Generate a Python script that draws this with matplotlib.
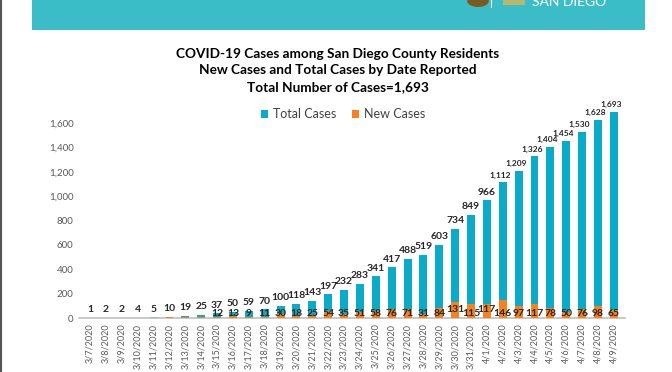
import numpy as np
import matplotlib.pyplot as plt
from matplotlib.patches import Rectangle
from matplotlib.lines import Line2D

# === DATA ===
DATES = ["3/7/2020", "3/8/2020", "3/9/2020", "3/10/2020", "3/11/2020", "3/12/2020",
         "3/13/2020", "3/14/2020", "3/15/2020", "3/16/2020", "3/17/2020", "3/18/2020",
         "3/19/2020", "3/20/2020", "3/21/2020", "3/22/2020", "3/23/2020", "3/24/2020",
         "3/25/2020", "3/26/2020", "3/27/2020", "3/28/2020", "3/29/2020", "3/30/2020",
         "3/31/2020", "4/1/2020", "4/2/2020", "4/3/2020", "4/4/2020", "4/5/2020",
         "4/6/2020", "4/7/2020", "4/8/2020", "4/9/2020"]
TOTAL_CASES = [1, 2, 2, 4, 5, 10, 19, 25, 37, 50, 59, 70, 100, 118, 143, 197, 232, 283,
               341, 417, 488, 519, 603, 734, 849, 966, 1112, 1209, 1326, 1404, 1454,
               1530, 1628, 1693]
NEW_CASES = [1, 1, 0, 2, 1, 5, 9, 6, 12, 13, 9, 11, 30, 18, 25, 54, 35, 51, 58, 76, 71,
             31, 84, 131, 115, 117, 146, 97, 117, 78, 50, 76, 98, 65]
# first dates have no label for new cases in the source
NEW_LABEL_FROM = "3/15/2020"
Y_TICKS = [0, 200, 400, 600, 800, 1000, 1200, 1400, 1600]

TITLE = ("COVID-19 Cases among San Diego County Residents\n"
         "New Cases and Total Cases by Date Reported\n"
         "Total Number of Cases=1,693")

TEAL = "#0aabc8"
ORANGE = "#f5821f"
BANNER = "#3bbdc7"
TXT = "#262626"
GREY = "#595959"
FONT = "Lato"

W, H = 672, 372
fig = plt.figure(figsize=(W / 100, H / 100), dpi=100)

# header banner and left border from the page
fig.add_artist(Rectangle((32 / W, 1 - 30 / H), (645 - 32) / W, 30 / H,
                         transform=fig.transFigure, color=BANNER, lw=0))
fig.add_artist(Line2D([0.5 / W, 0.5 / W], [0, 1], transform=fig.transFigure,
                      color="#555555", lw=1.5))
fig.text(532 / W, 1 - 2 / H, "SAN DIEGO", color="white", fontsize=10,
         family=FONT, va="center", ha="left")
fig.add_artist(Rectangle((503 / W, 1 - 5 / H), 22 / W, 6 / H,
                         transform=fig.transFigure, color="#b8b86a", lw=0))
fig.add_artist(Line2D([491 / W, 491 / W], [1 - 7 / H, 1], transform=fig.transFigure,
                      color="white", lw=0.8))
fig.add_artist(plt.Circle((478 / W, 1 - 1 / H), 6 / H, transform=fig.transFigure,
                          color="#7a5a1e", lw=0))

ax = fig.add_axes([79 / W, 54 / H, (625 - 79) / W, (318 - 98.6) / H])
x = np.arange(len(DATES))
bw = 0.5
ax.bar(x, TOTAL_CASES, width=bw, color=TEAL, label="Total Cases", zorder=2)
ax.bar(x, NEW_CASES, width=bw, color=ORANGE, label="New Cases", zorder=3)

for i, v in enumerate(TOTAL_CASES):
    big = v >= 1000
    ax.annotate(f"{v:,}", (x[i], v), xytext=(-2 if big else 0, 2.5),
                textcoords="offset points", ha="center", va="bottom",
                fontsize=6 if big else 7.5, fontweight="bold",
                color=TXT, family=FONT, zorder=4)

start = DATES.index(NEW_LABEL_FROM)
for i in range(start, len(DATES)):
    # staggered labels where they would collide
    dy = 9 if DATES[i] in ("3/30/2020", "4/1/2020") else 5
    ax.annotate(f"{NEW_CASES[i]:,}", (x[i], 0), xytext=(0, dy * 0.72),
                textcoords="offset points", ha="center", va="center",
                fontsize=7.5, fontweight="bold", color=TXT, family=FONT, zorder=4)

ax.set_xlim(-0.7, len(DATES) - 0.3)
ax.set_ylim(0, 1800)
ax.set_yticks(Y_TICKS)
ax.set_yticklabels([f"{t:,}" for t in Y_TICKS], fontsize=7, color=GREY, family=FONT)
ax.set_xticks(x)
ax.set_xticklabels(DATES, rotation=90, fontsize=6.5, color=GREY, family=FONT)
ax.tick_params(length=0, pad=4)
for s in ["top", "right", "left"]:
    ax.spines[s].set_visible(False)
ax.spines["bottom"].set_color("#bfbfbf")
ax.spines["bottom"].set_linewidth(1.2)

fig.text(338 / W, 1 - 70.5 / H, TITLE, ha="center", va="center", fontsize=9.8,
         fontweight="bold", color="black", family=FONT, linespacing=1.5)

ax.legend(loc="center", bbox_to_anchor=(343 / W, 1 - 114 / H),
          bbox_transform=fig.transFigure, ncol=2, frameon=False,
          prop={"family": FONT, "size": 9}, handlelength=0.6, handleheight=0.6,
          columnspacing=1.2, handletextpad=0.4, labelcolor="#404040")

fig.savefig("out.png", dpi=100)
